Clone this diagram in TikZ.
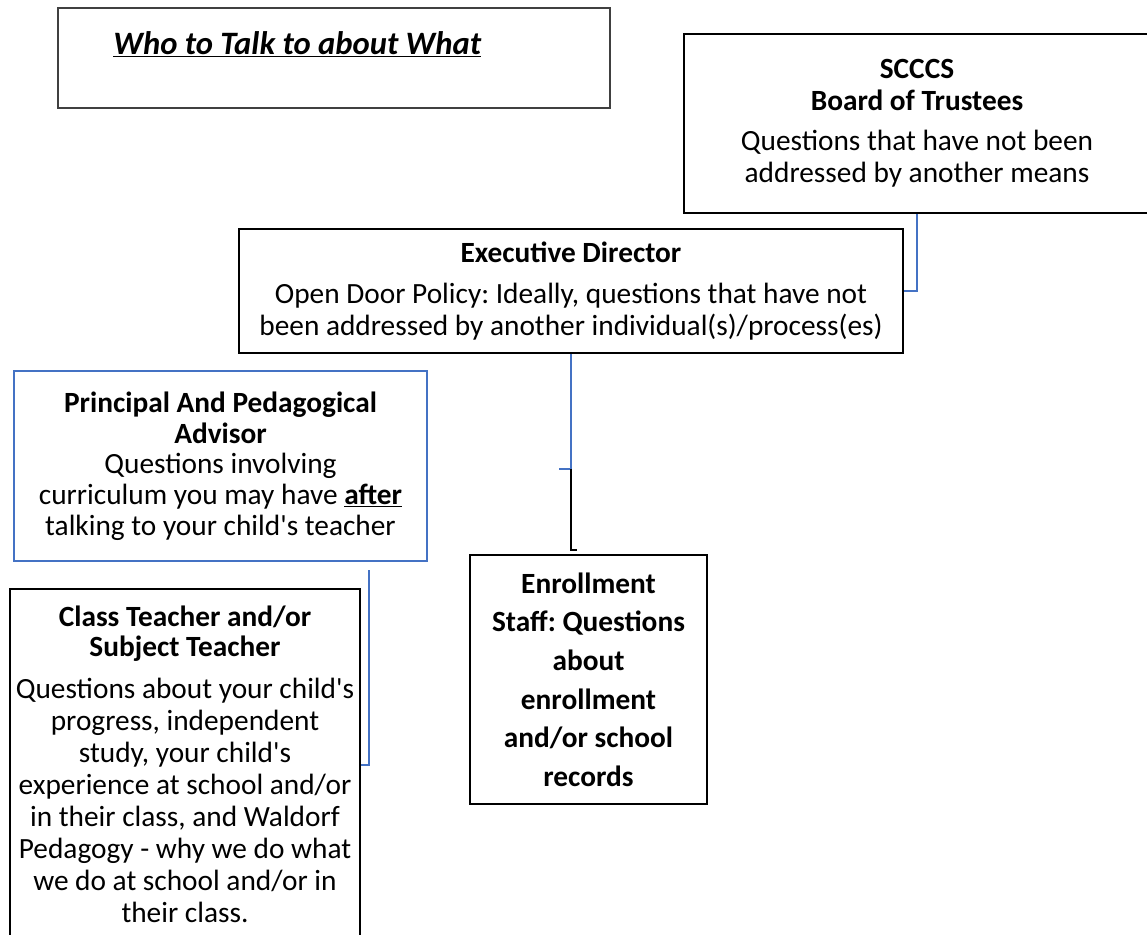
\documentclass[tikz,border=0pt]{standalone}
\usepackage{fontspec}
\setmainfont{Carlito}[Ligatures=TeXOff]
\frenchspacing
\definecolor{wordblue}{RGB}{68,114,196}

\tikzset{every picture/.style={line width=0.75pt}}
\tikzset{
  box/.style={draw, line width=2.2pt, align=center, inner sep=0pt, font=\fontsize{22}{24}\selectfont},
  bluebox/.style={box, draw=wordblue, line width=1.9pt},
  link/.style={draw=wordblue, line width=1.5pt},
  tie/.style={draw=black, line width=1.5pt}
}

\begin{document}
\begin{tikzpicture}[x=0.75pt,y=0.75pt,yscale=-1,xscale=1]
\useasboundingbox (0,0) rectangle (1147,935); %set diagram to the page size

% Text Node
\node [box, draw=black!75, line width=1.1pt, minimum width=414pt, minimum height=75pt, font=\fontsize{24.5}{33}\selectfont\bfseries\itshape] (title) at (334,58) {\underline{Who to Talk to about What}\hspace*{55pt}\\[-10pt] ~};
% Text Node
\node [box, minimum width=349.5pt, minimum height=134.25pt] (board) at (917,123.5) {\textbf{SCCCS}\\ \textbf{Board of Trustees}\\[6pt] Questions that have not been\\ addressed by another means};
% Text Node
\node [box, minimum width=498pt, minimum height=93pt] (exec) at (571,291) {\textbf{Executive Director}\\[7pt] Open Door Policy: Ideally, questions that have not\\ been addressed by another individual(s)/process(es)};
% Text Node
\node [bluebox, minimum width=309.75pt, minimum height=142.5pt, font=\fontsize{22}{23}\selectfont] (princ) at (220.5,466) {\textbf{Principal And Pedagogical}\\ \textbf{Advisor}\\ Questions involving\\ curriculum you may have \textbf{\underline{after}}\\ talking to your child's teacher};
% Text Node
\node [box, line width=1.4pt, minimum width=177.75pt, minimum height=186.75pt, font=\fontsize{22}{29}\selectfont\bfseries] (enroll) at (588.5,679.5) {Enrollment\\ Staff: Questions\\ about\\ enrollment\\ and/or school\\ records};
% Text Node
\node [box, minimum width=262.5pt, minimum height=263.25pt] (teach) at (185,764.5) {\textbf{Class Teacher and/or}\\[-2pt] \textbf{Subject Teacher}\\[8pt] Questions about your child's\\ progress, independent\\ study, your child's\\ experience at school and/or\\ in their class, and Waldorf\\ Pedagogy - why we do what\\ we do at school and/or in\\ their class.};

\coordinate (split) at (571,469);
\coordinate (foot) at (577,550);
\coordinate (hook) at (369,570);

%Straight Lines
\draw [link] (board.south) |- (exec.east);
\draw [link] (exec.south) -- (split) -- ++(-12,0);
\draw [tie] (split) |- (foot);
\draw [link] (hook) |- (teach.east);

\end{tikzpicture}
\end{document}
